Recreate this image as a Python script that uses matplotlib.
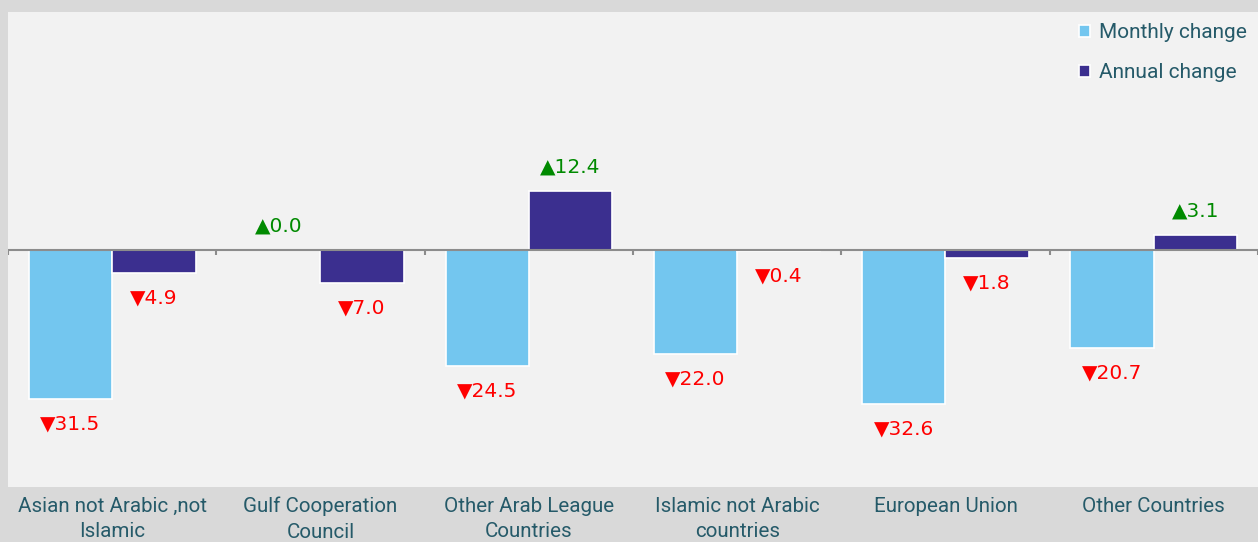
import numpy as np
import matplotlib.pyplot as plt

# Chart data
categories = ["Asian not Arabic ,not\nIslamic", "Gulf Cooperation\nCouncil",
              "Other Arab League\nCountries", "Islamic not Arabic\ncountries",
              "European Union", "Other Countries"]
monthly_change = [-31.5, 0.0, -24.5, -22.0, -32.6, -20.7]
annual_change = [-4.9, -7.0, 12.4, -0.4, -1.8, 3.1]

MONTHLY_COLOR = "#73c6ef"
ANNUAL_COLOR = "#3b2f8f"
TEXT_COLOR = "#255a69"
UP_COLOR = "#008a00"
DOWN_COLOR = "#ff0000"

fig = plt.figure(figsize=(12.58, 5.42), dpi=100, facecolor="#d9d9d9")
ax = fig.add_axes([8 / 1258, 55 / 542, 1 - 8 / 1258, 475 / 542])
ax.set_facecolor("#f2f2f2")

x = np.arange(len(categories))
width = 0.4
bars_m = ax.bar(x - width / 2, monthly_change, width, color=MONTHLY_COLOR,
                edgecolor="white", linewidth=1.2, label="Monthly change", zorder=2)
bars_a = ax.bar(x + width / 2, annual_change, width, color=ANNUAL_COLOR,
                edgecolor="white", linewidth=1.2, label="Annual change", zorder=2)

ax.set_xlim(-0.5, len(categories) - 0.5)
ax.set_ylim(-50, 50)

# zero line with category boundary ticks
ax.axhline(0, color="#8c8c8c", linewidth=1.5, zorder=3)
bounds = np.arange(len(categories) + 1) - 0.5
ax.vlines(bounds, -1.2, 0, color="#8c8c8c", linewidth=1.5, zorder=3)

# value labels with arrows
for bars, vals in [(bars_m, monthly_change), (bars_a, annual_change)]:
    for b, v in zip(bars, vals):
        cx = b.get_x() + b.get_width() / 2
        if v >= 0:
            txt, col, off = "\u25b2" + f"{abs(v):.1f}", UP_COLOR, 17
        else:
            txt, col, off = "\u25bc" + f"{abs(v):.1f}", DOWN_COLOR, -18
        ax.annotate(txt, (cx, v), xytext=(0, off), textcoords="offset points",
                    ha="center", va="center", color=col, fontsize=14.5,
                    family="DejaVu Sans")

ax.set_xticks(x)
ax.set_xticklabels(categories, fontsize=14.8, color=TEXT_COLOR, family="Roboto",
                   linespacing=1.45)
ax.tick_params(axis="x", length=0, pad=7)
ax.set_yticks([])
for s in ax.spines.values():
    s.set_visible(False)

leg = ax.legend(loc="upper right", frameon=False, handlelength=0.55,
                handleheight=0.55, handletextpad=0.4, labelspacing=1.0,
                borderaxespad=0.15, prop={"family": "Roboto", "size": 15})
for t in leg.get_texts():
    t.set_color(TEXT_COLOR)

fig.savefig("out.png", dpi=100, facecolor=fig.get_facecolor())
